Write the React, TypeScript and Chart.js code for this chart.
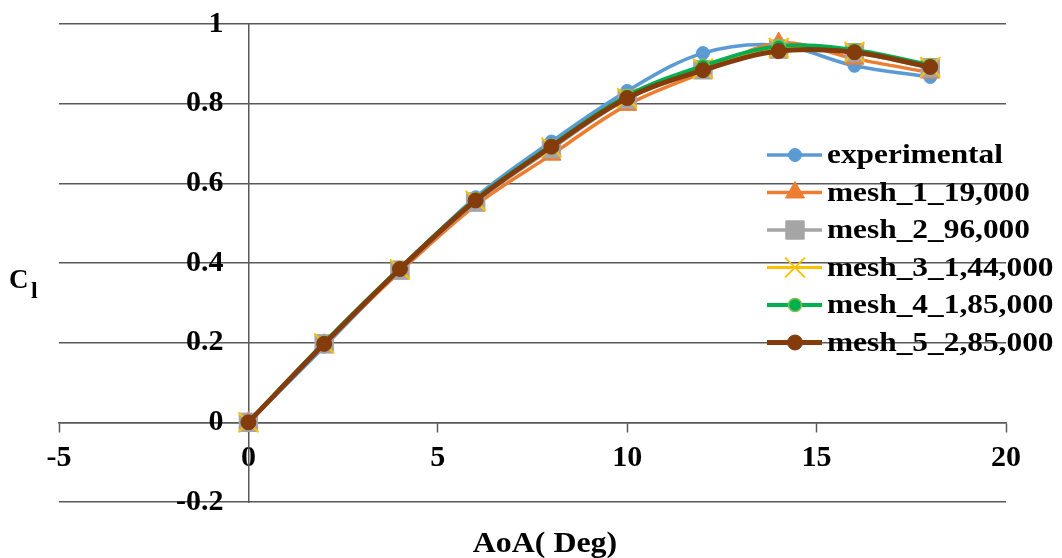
import React, { useEffect, useRef } from 'react';
import { Chart, registerables } from 'chart.js';

Chart.register(...registerables);

// ---------- data ----------
const aoa = [0, 2, 4, 6, 8, 10, 12, 14, 16, 18];
const experimental = [0, 0.19, 0.383, 0.565, 0.705, 0.832, 0.927, 0.947, 0.895, 0.867];
const mesh1 = [0, 0.195, 0.378, 0.545, 0.672, 0.797, 0.878, 0.952, 0.913, 0.878];
const mesh2 = [0, 0.197, 0.382, 0.553, 0.687, 0.812, 0.885, 0.937, 0.928, 0.89];
const mesh3 = [0, 0.198, 0.384, 0.556, 0.69, 0.814, 0.888, 0.94, 0.93, 0.892];
const mesh4 = [0, 0.2, 0.387, 0.56, 0.695, 0.82, 0.895, 0.944, 0.935, 0.897];
const mesh5 = [0, 0.197, 0.385, 0.557, 0.692, 0.814, 0.884, 0.932, 0.929, 0.892];

const seriesLabels = [
  'experimental',
  'mesh_1_19,000',
  'mesh_2_96,000',
  'mesh_3_1,44,000',
  'mesh_4_1,85,000',
  'mesh_5_2,85,000',
];
const xTitle = 'AoA( Deg)';
const yTitleMain = 'C';
const yTitleSub = 'l';

const FONT = '"Liberation Serif", "Times New Roman", serif';
const GRID = '#595959';

type Style = {
  color: string;
  width: number;
  point: string;
  radius: number;
  bg: string;
  border: string;
  bw: number;
};

const styles: Style[] = [
  { color: '#5B9BD5', width: 3.5, point: 'circle', radius: 6.5, bg: '#5B9BD5', border: '#5B9BD5', bw: 1 },
  { color: '#ED7D31', width: 3.5, point: 'triangle', radius: 11, bg: '#ED7D31', border: '#ED7D31', bw: 1 },
  { color: '#A5A5A5', width: 3.5, point: 'rect', radius: 13, bg: '#A5A5A5', border: '#A5A5A5', bw: 1 },
  { color: '#FFC000', width: 3, point: 'crossRot', radius: 14, bg: '#FFC000', border: '#FFC000', bw: 2 },
  { color: '#00B050', width: 4, point: 'circle', radius: 6.5, bg: '#00B050', border: '#7CC04E', bw: 1.5 },
  { color: '#843C0C', width: 5, point: 'circle', radius: 7.5, bg: '#843C0C', border: '#843C0C', bw: 1 },
];

const seriesValues = [experimental, mesh1, mesh2, mesh3, mesh4, mesh5];

function drawMarker(ctx: CanvasRenderingContext2D, s: Style, x: number, y: number) {
  ctx.save();
  ctx.fillStyle = s.bg;
  ctx.strokeStyle = s.border;
  ctx.lineWidth = s.bw;
  ctx.beginPath();
  const r = s.radius;
  if (s.point === 'circle') {
    ctx.arc(x, y, r, 0, Math.PI * 2);
    ctx.fill();
    ctx.stroke();
  } else if (s.point === 'triangle') {
    ctx.moveTo(x, y - r);
    ctx.lineTo(x + Math.sin((2 * Math.PI) / 3) * r, y + 0.5 * r);
    ctx.lineTo(x - Math.sin((2 * Math.PI) / 3) * r, y + 0.5 * r);
    ctx.closePath();
    ctx.fill();
    ctx.stroke();
  } else if (s.point === 'rect') {
    const h = Math.SQRT1_2 * r;
    ctx.rect(x - h, y - h, 2 * h, 2 * h);
    ctx.fill();
    ctx.stroke();
  } else if (s.point === 'crossRot') {
    const h = Math.SQRT1_2 * r;
    ctx.moveTo(x - h, y - h);
    ctx.lineTo(x + h, y + h);
    ctx.moveTo(x - h, y + h);
    ctx.lineTo(x + h, y - h);
    ctx.stroke();
  }
  ctx.restore();
}

function drawStretchedText(ctx: CanvasRenderingContext2D, text: string, x: number, y: number, sx: number) {
  ctx.save();
  ctx.translate(x, y);
  ctx.scale(sx, 1);
  ctx.fillText(text, 0, 0);
  ctx.restore();
}

const overlayPlugin = {
  id: 'overlay',
  afterDraw(chart: any) {
    const ctx: CanvasRenderingContext2D = chart.ctx;
    ctx.save();
    // legend
    const legendTop = 155;
    const step = 37.5;
    styles.forEach((s, i) => {
      const y = legendTop + i * step;
      ctx.strokeStyle = s.color;
      ctx.lineWidth = s.width;
      ctx.beginPath();
      ctx.moveTo(767, y);
      ctx.lineTo(822, y);
      ctx.stroke();
      drawMarker(ctx, s, 795, y);
      ctx.fillStyle = '#000';
      ctx.font = `bold 28px ${FONT}`;
      ctx.textAlign = 'left';
      ctx.textBaseline = 'middle';
      drawStretchedText(ctx, seriesLabels[i], 827, y + 1, 1.12);
    });
    // x title
    ctx.fillStyle = '#000';
    ctx.font = `bold 29px ${FONT}`;
    ctx.textAlign = 'center';
    ctx.textBaseline = 'alphabetic';
    drawStretchedText(ctx, xTitle, 545, 552, 1.1);
    // y title with subscript
    ctx.textAlign = 'left';
    ctx.font = `bold 27px ${FONT}`;
    ctx.fillText(yTitleMain, 9, 288);
    ctx.font = `bold 24px ${FONT}`;
    ctx.fillText(yTitleSub, 31, 298);
    ctx.restore();
  },
};

export default function App() {
  const ref = useRef<HTMLCanvasElement | null>(null);

  useEffect(() => {
    if (!ref.current) return;
    const datasets = seriesValues.map((vals, i) => {
      const s = styles[i];
      return {
        label: seriesLabels[i],
        data: aoa.map((x, j) => ({ x, y: vals[j] })),
        borderColor: s.color,
        backgroundColor: s.bg,
        borderWidth: s.width,
        pointStyle: s.point,
        pointRadius: s.radius,
        pointBackgroundColor: s.bg,
        pointBorderColor: s.border,
        pointBorderWidth: s.bw,
        tension: 0.35,
        fill: false,
        order: seriesValues.length - i,
        yAxisID: 'y',
      };
    });

    const chart = new Chart(ref.current, {
      type: 'line',
      data: { datasets } as any,
      options: {
        animation: false,
        responsive: true,
        maintainAspectRatio: false,
        layout: { padding: { left: 59, right: 56, top: 24, bottom: 56 } },
        plugins: {
          legend: { display: false },
          tooltip: { enabled: false },
          title: { display: false },
        },
        scales: {
          x: {
            type: 'linear',
            position: { y: 0 } as any,
            min: -5,
            max: 20,
            ticks: {
              stepSize: 5,
              color: '#000',
              font: { family: FONT, size: 30, weight: 'bold', lineHeight: 1 },
              padding: 12,
              maxRotation: 0,
            },
            grid: {
              drawOnChartArea: false,
              drawTicks: true,
              tickLength: 9,
              tickColor: GRID,
              tickWidth: 1.5,
            },
            border: { display: true, color: GRID, width: 1.5 },
          },
          y: {
            type: 'linear',
            position: { x: -0.66 } as any,
            min: -0.2,
            max: 1,
            ticks: {
              stepSize: 0.2,
              color: '#000',
              font: { family: FONT, size: 30, weight: 'bold', lineHeight: 1 },
              padding: 0,
              callback: (v: any) => String(Math.round(Number(v) * 10) / 10),
            },
            grid: {
              drawOnChartArea: true,
              color: GRID,
              lineWidth: 1.5,
              drawTicks: false,
            },
            border: { display: false },
          },
          y2: {
            type: 'linear',
            position: { x: 0 } as any,
            min: -0.2,
            max: 1,
            ticks: { display: false, stepSize: 0.2 },
            grid: { display: true, drawOnChartArea: false, drawTicks: false },
            border: { display: true, color: GRID, width: 1.5 },
          },
        },
      },
      plugins: [overlayPlugin],
    });
    return () => chart.destroy();
  }, []);

  return (
    <div style={{ position: 'absolute', left: 0, top: 0, width: 1062, height: 558 }}>
      <canvas ref={ref} />
    </div>
  );
}
